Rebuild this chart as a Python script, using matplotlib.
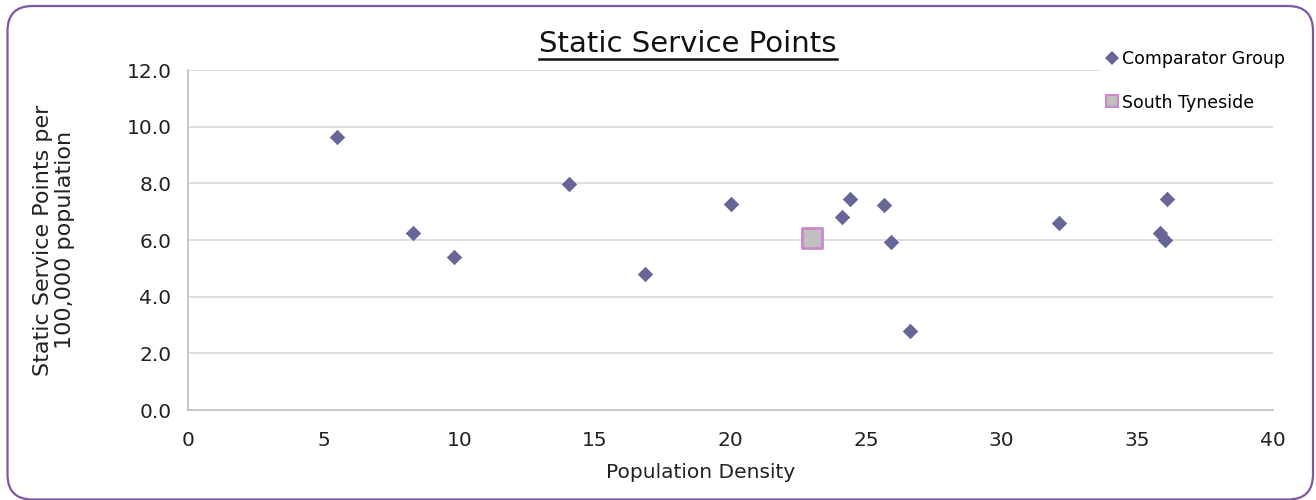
import matplotlib
matplotlib.use("Agg")
import matplotlib.pyplot as plt
from matplotlib.lines import Line2D
from matplotlib.patches import FancyBboxPatch

# Comparator group: population density vs static service points per 100,000
comp_density = [5.5, 8.3, 9.8, 14.05, 16.85, 20.0, 24.1, 24.4, 25.65, 25.9, 26.6, 32.1, 35.85, 36.0, 36.1]
comp_points = [9.62, 6.25, 5.40, 7.98, 4.80, 7.27, 6.81, 7.44, 7.23, 5.93, 2.78, 6.61, 6.26, 6.00, 7.44]

# South Tyneside
st_density = [23.0]
st_points = [6.07]

x_ticks = [0, 5, 10, 15, 20, 25, 30, 35, 40]
y_ticks = [0, 2, 4, 6, 8, 10, 12]

DIAMOND = "#666699"
ST_FACE = "#C0C0C0"
ST_EDGE = "#CC88CC"
BORDER = "#7E57A5"
TXT = "#222222"

W, H, DPI = 1316, 500, 100
fig = plt.figure(figsize=(W / DPI, H / DPI), dpi=DPI)
plt.rcParams["font.family"] = ["DejaVu Sans"]

# rounded border around the chart area
border = FancyBboxPatch((7.5 / DPI, 0.5 / DPI), 1305.5 / DPI, 493.5 / DPI,
                        boxstyle=f"round,pad=0,rounding_size={25 / DPI}",
                        transform=fig.dpi_scale_trans, facecolor="none",
                        edgecolor=BORDER, linewidth=1.6, clip_on=False)
fig.patches.append(border)

ax = fig.add_axes([188 / W, 1 - 410 / H, (1273 - 188) / W, (410 - 70) / H])
ax.scatter(comp_density, comp_points, marker="D", s=62, color=DIAMOND, zorder=3,
           linewidths=0)
ax.scatter(st_density, st_points, marker="s", s=190, facecolor=ST_FACE,
           edgecolor=ST_EDGE, linewidths=2, zorder=4)

ax.set_xlim(0, 40)
ax.set_ylim(0, 12)
ax.set_xticks(x_ticks)
ax.set_yticks(y_ticks)
ax.set_yticklabels([f"{v:.1f}" for v in y_ticks])
ax.tick_params(axis="both", length=0, labelsize=14.5, colors=TXT)
ax.tick_params(axis="y", pad=12)
ax.tick_params(axis="x", pad=15)
ax.yaxis.grid(True, color="#D9D9D9", linewidth=1.2)
ax.set_axisbelow(True)
for side in ("top", "right"):
    ax.spines[side].set_visible(False)
for side in ("left", "bottom"):
    ax.spines[side].set_color("#BFBFBF")
    ax.spines[side].set_linewidth(1.2)

ax.set_xlabel("Population Density", fontsize=14.5, color=TXT)
ax.xaxis.set_label_coords((701 - 188) / (1273 - 188), -(463 - 410) / (410 - 70))
ax.set_ylabel("Static Service Points per\n100,000 population", fontsize=16,
              color=TXT, linespacing=1.1)
ax.yaxis.set_label_coords(-(188 - 75) / (1273 - 188), 0.5)

# underlined title
title = fig.text(688 / W, 1 - 44 / H, "Static Service Points", fontsize=21,
                 ha="center", va="center", color="#111111")
fig.canvas.draw()
bb = title.get_window_extent(fig.canvas.get_renderer())
inv = fig.transFigure.inverted()
(x0, y0), (x1, _) = inv.transform([(bb.x0, bb.y0), (bb.x1, bb.y1)])
fig.add_artist(Line2D([x0, x1], [y0 - 1 / H, y0 - 1 / H], transform=fig.transFigure,
                      color="#111111", linewidth=1.8))

handles = [
    Line2D([], [], marker="D", linestyle="", color=DIAMOND, markersize=7, markeredgewidth=0),
    Line2D([], [], marker="s", linestyle="", markerfacecolor=ST_FACE,
           markeredgecolor=ST_EDGE, markeredgewidth=1.5, markersize=8.5),
]
leg = fig.legend(handles, ["Comparator Group", "South Tyneside"],
                 loc="upper left", bbox_to_anchor=(1101 / W, 1 - 46 / H),
                 fontsize=12.5, frameon=True, facecolor="white", edgecolor="none",
                 framealpha=1, handlelength=0.75, handletextpad=0.2,
                 labelspacing=1.45, borderpad=0.25, borderaxespad=0)
leg.get_frame().set_boxstyle("square", pad=0)

fig.savefig("out.png", dpi=DPI)
